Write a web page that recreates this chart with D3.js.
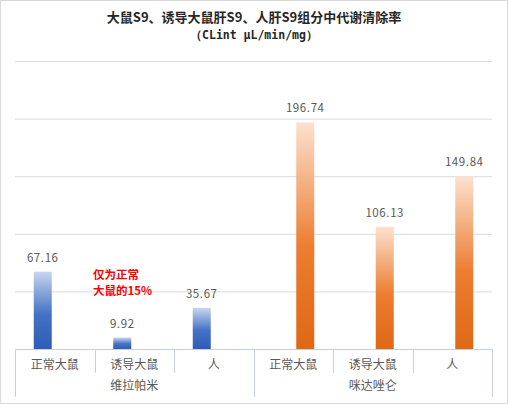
<!DOCTYPE html>
<html>
<head>
<meta charset="utf-8">
<script src="https://cdn.jsdelivr.net/npm/d3@7"></script>
<style>
  body { margin: 0; background: #fff; }
  svg { display: block; font-family: "Noto Sans CJK SC", "DejaVu Sans", sans-serif; }
</style>
</head>
<body>
<svg id="chart"></svg>
<script>
// data
const groups = ["维拉帕米", "咪达唑仑"];
const items = ["正常大鼠", "诱导大鼠", "人"];
const verapamil = [67.16, 9.92, 35.67];
const midazolam = [196.74, 106.13, 149.84];
const yTicks = [0, 50, 100, 150, 200, 250];
const titleLines = ["大鼠S9、诱导大鼠肝S9、人肝S9组分中代谢清除率", "（CLint μL/min/mg）"];
const note = ["仅为正常", "大鼠的15%"];

const width = 508, height = 404;
const margin = { top: 61, right: 16, bottom: 55, left: 15 };
const innerW = width - margin.left - margin.right;
const innerH = height - margin.top - margin.bottom;

const rows = [];
groups.forEach((g, gi) => {
  const vals = gi === 0 ? verapamil : midazolam;
  items.forEach((it, ii) => rows.push({ group: g, item: it, key: g + "|" + it, series: gi, value: vals[ii] }));
});

const svg = d3.select("#chart").attr("width", width).attr("height", height);

svg.append("rect")
  .attr("x", 0.5).attr("y", 0.5)
  .attr("width", width - 1).attr("height", height - 1)
  .attr("fill", "#fff").attr("stroke", "#d9d9d9");

// gradients
const defs = svg.append("defs");
const grads = [
  { id: "gBlue", stops: ["#c8d5ef", "#4472c4", "#2f5cb6"] },
  { id: "gOrange", stops: ["#fbe1cf", "#ed7d31", "#df6814"] },
];
grads.forEach(g => {
  const lg = defs.append("linearGradient").attr("id", g.id)
    .attr("x1", 0).attr("y1", 0).attr("x2", 0).attr("y2", 1);
  lg.append("stop").attr("offset", "0%").attr("stop-color", g.stops[0]);
  lg.append("stop").attr("offset", "55%").attr("stop-color", g.stops[1]);
  lg.append("stop").attr("offset", "100%").attr("stop-color", g.stops[2]);
});

// title
svg.append("text")
  .attr("x", width / 2).attr("y", 22)
  .attr("text-anchor", "middle")
  .attr("font-size", 13).attr("font-weight", "bold").attr("fill", "#262626")
  .text(titleLines[0]);
svg.append("text")
  .attr("x", width / 2).attr("y", 39)
  .attr("text-anchor", "middle")
  .attr("font-family", "'DejaVu Sans Mono', monospace")
  .attr("font-size", 11.5).attr("font-weight", "bold").attr("fill", "#262626")
  .text(titleLines[1]);

const chart = svg.append("g").attr("transform", `translate(${margin.left},${margin.top})`);

const x = d3.scaleBand().domain(rows.map(d => d.key)).range([0, innerW]);
const xSub = d3.scaleBand().domain([0, 1]).range([x.bandwidth() / 2 - 21, x.bandwidth() / 2 + 21]).paddingInner(0.25);
const y = d3.scaleLinear().domain([0, 250]).range([innerH, 0]);

// gridlines
chart.append("g")
  .selectAll("line")
  .data(yTicks.slice(1))
  .join("line")
  .attr("x1", 0).attr("x2", innerW)
  .attr("y1", d => y(d) + 0.5).attr("y2", d => y(d) + 0.5)
  .attr("stroke", "#d9d9d9");

// bars
chart.append("g")
  .selectAll("rect")
  .data(rows)
  .join("rect")
  .attr("x", d => x(d.key) + xSub(d.series))
  .attr("width", xSub.bandwidth())
  .attr("y", d => y(d.value))
  .attr("height", d => innerH - y(d.value))
  .attr("fill", d => d.series === 0 ? "url(#gBlue)" : "url(#gOrange)");

// value labels
chart.append("g")
  .selectAll("text")
  .data(rows)
  .join("text")
  .attr("x", d => x(d.key) + xSub(d.series) + xSub.bandwidth() / 2)
  .attr("y", d => y(d.value) - 10)
  .attr("text-anchor", "middle")
  .attr("font-size", 11.5).attr("fill", "#595959")
  .attr("letter-spacing", 0.6)
  .text(d => d.value.toFixed(2));

// axis
const axisColor = "#c5d0e6";
const axis = chart.append("g").attr("transform", `translate(0,${innerH})`);
axis.append("line").attr("x1", 0).attr("x2", innerW).attr("y1", 0.5).attr("y2", 0.5).attr("stroke", axisColor);

const bounds = d3.range(rows.length + 1);
axis.selectAll(".tick-line")
  .data(bounds)
  .join("line")
  .attr("class", "tick-line")
  .attr("x1", i => Math.round(i * x.step()) + 0.5)
  .attr("x2", i => Math.round(i * x.step()) + 0.5)
  .attr("y1", 0)
  .attr("y2", i => i % items.length === 0 ? 48 : 24)
  .attr("stroke", axisColor);

axis.selectAll(".item-label")
  .data(rows)
  .join("text")
  .attr("class", "item-label")
  .attr("x", d => x(d.key) + x.bandwidth() / 2)
  .attr("y", 20)
  .attr("text-anchor", "middle")
  .attr("font-size", 12).attr("fill", "#595959")
  .text(d => d.item);

axis.selectAll(".group-label")
  .data(groups)
  .join("text")
  .attr("class", "group-label")
  .attr("x", (d, i) => (i * items.length + items.length / 2) * x.step())
  .attr("y", 41)
  .attr("text-anchor", "middle")
  .attr("font-size", 12).attr("fill", "#595959")
  .text(d => d);

// annotation
svg.append("g")
  .selectAll("text")
  .data(note)
  .join("text")
  .attr("x", 93)
  .attr("y", (d, i) => 279 + i * 16)
  .attr("font-size", 11.5).attr("font-weight", "bold").attr("fill", "#ff0000")
  .text(d => d);
</script>
</body>
</html>
